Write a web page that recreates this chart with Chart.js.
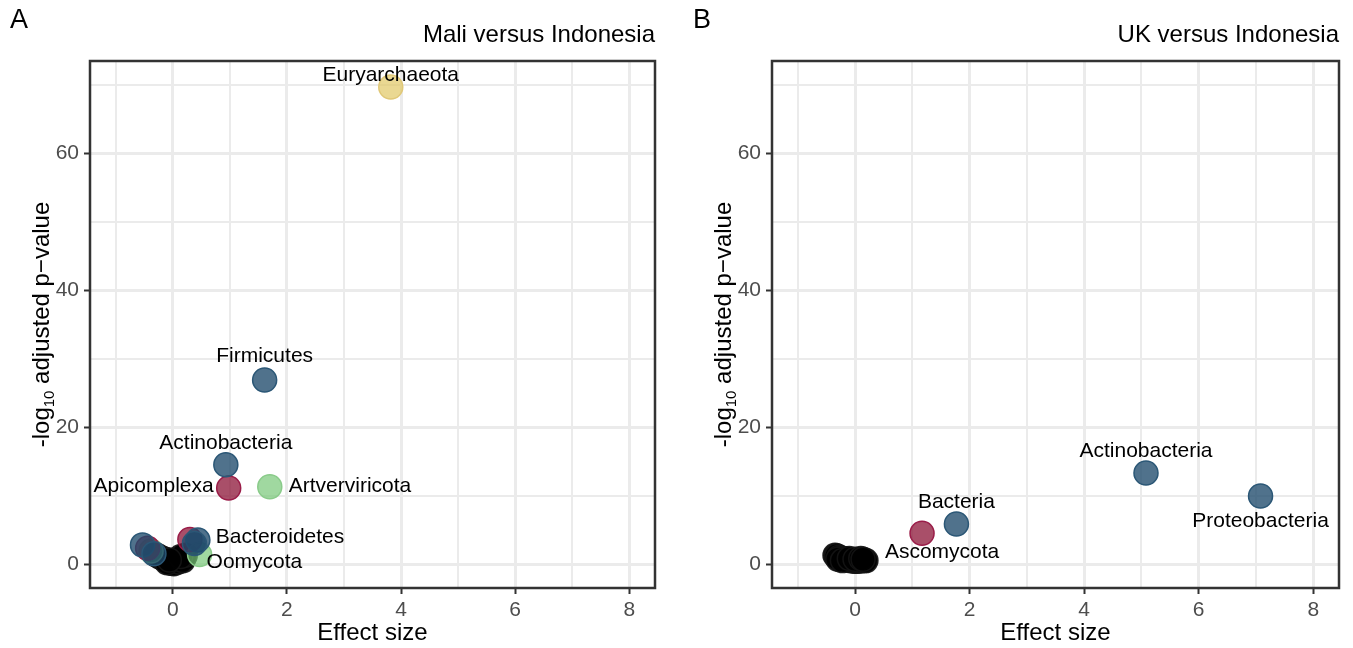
<!DOCTYPE html>
<html>
<head>
<meta charset="utf-8">
<title>Effect size volcano plots</title>
<script src="https://cdn.jsdelivr.net/npm/chart.js@4.4.1/dist/chart.umd.min.js"></script>
<style>
  body { margin: 0; background: #fff; font-family: "Liberation Sans", Arial, sans-serif; }
  #wrap { position: relative; width: 1353px; height: 648px; overflow: hidden; }
  .panel { position: absolute; top: 0; width: 676px; height: 648px; }
  .tag { position: absolute; top: 4px; font-size: 27px; color: #000; }
</style>
</head>
<body>
<div id="wrap">
  <div class="panel" style="left:0"><canvas id="chartA" width="676" height="648"></canvas></div>
  <div class="panel" style="left:677px"><canvas id="chartB" width="676" height="648"></canvas></div>
  <div class="tag" style="left:10px">A</div>
  <div class="tag" style="left:693px">B</div>
</div>
<script>
// axis ticks (minor ones only get a grid line)
const xTicks = [-1, 0, 1, 2, 3, 4, 5, 6, 7, 8];
const yTicks = [0, 10, 20, 30, 40, 50, 60, 70];
const xMajor = [0, 2, 4, 6, 8];
const yMajor = [0, 20, 40, 60];

// --- Panel A: Mali versus Indonesia ---
const maliBlueX = [1.61, 0.93, 0.44, 0.38, -0.53, -0.33];
const maliBlueY = [26.9, 14.5, 3.5, 3.0, 2.8, 1.5];
const maliBlueNames = ["Firmicutes", "Actinobacteria", "Bacteroidetes", "", "", ""];

const maliRedX = [0.98, -0.44, 0.30];
const maliRedY = [11.1, 2.3, 3.6];
const maliRedNames = ["Apicomplexa", "", ""];

const maliGreenX = [1.70, -0.38, 0.47];
const maliGreenY = [11.3, 1.9, 1.4];
const maliGreenNames = ["Artverviricota", "", "Oomycota"];

const maliYellowX = [3.82];
const maliYellowY = [69.7];
const maliYellowNames = ["Euryarchaeota"];

const maliGreyX = [-0.28, -0.22, -0.17, -0.12, -0.08, -0.04, 0, 0.04, 0.08, 0.12, 0.16, 0.2, -0.02, 0.02, 0.1, -0.1, 0.18, 0.22, 0.14, -0.06];
const maliGreyY = [1.3, 1.0, 0.8, 0.6, 0.4, 0.3, 0.2, 0.3, 0.45, 0.6, 0.8, 1.0, 0.1, 0.05, 0.3, 0.2, 0.5, 1.3, 1.1, 0.6];

// --- Panel B: UK versus Indonesia ---
const ukBlueX = [5.08, 7.08, 1.77];
const ukBlueY = [13.3, 9.95, 5.86];
const ukBlueNames = ["Actinobacteria", "Proteobacteria", "Bacteria"];

const ukRedX = [1.17];
const ukRedY = [4.5];

const ukGreyX = [-0.35, -0.32, -0.28, -0.24, -0.2, -0.16, -0.12, -0.08, -0.04, 0, 0.04, 0.08, 0.12, 0.16, 0.19, -0.3, -0.22, -0.1, 0, 0.1, 0.14];
const ukGreyY = [1.3, 1.2, 1.0, 0.9, 0.8, 0.7, 0.6, 0.5, 0.45, 0.4, 0.4, 0.45, 0.5, 0.5, 0.5, 0.7, 0.5, 0.8, 0.7, 0.8, 0.7];
const ukGreyNames = ["", "", "", "", "", "", "", "", "", "", "", "", "", "", "Ascomycota", "", "", "", "", "", ""];

// where each label sits relative to its point (pixels)
const labelPlace = {
  "Euryarchaeota": { dx: 0, dy: -12, align: "center" },
  "Firmicutes": { dx: 0, dy: -24, align: "center" },
  "Actinobacteria": { dx: 0, dy: -22, align: "center" },
  "Apicomplexa": { dx: -15, dy: -2, align: "right" },
  "Artverviricota": { dx: 19, dy: -1, align: "left" },
  "Bacteroidetes": { dx: 18, dy: -3, align: "left" },
  "Oomycota": { dx: 7, dy: 8, align: "left" },
  "Proteobacteria": { dx: 0, dy: 25, align: "center" },
  "Bacteria": { dx: 0, dy: -22, align: "center" },
  "Ascomycota": { dx: 19, dy: -8, align: "left" }
};

const FONT = "'Liberation Sans', Arial, sans-serif";

const colours = {
  blue: { fill: "rgba(31,74,107,0.78)", line: "#2B5776" },
  red: { fill: "rgba(140,20,55,0.75)", line: "#9A1C48" },
  green: { fill: "rgba(120,200,120,0.7)", line: "#8ACB8A" },
  yellow: { fill: "rgba(225,200,100,0.7)", line: "#E0C878" },
  black: { fill: "rgba(0,0,0,0.92)", line: "rgba(20,20,20,0.9)" }
};

function pts(xs, ys) {
  return xs.map((v, i) => ({ x: v, y: ys[i] }));
}

function series(xs, ys, names, col, order) {
  return {
    data: pts(xs, ys),
    names: names || [],
    backgroundColor: col.fill,
    borderColor: col.line,
    borderWidth: 1.5,
    pointRadius: 12,
    pointHoverRadius: 12,
    order: order
  };
}

// frame, titles and point labels
const decor = {
  id: "decor",
  afterDatasetsDraw(chart, args, opts) {
    const c = chart.ctx, a = chart.chartArea;
    c.save();
    // point labels
    c.fillStyle = "#000";
    c.font = "21px " + FONT;
    c.textBaseline = "middle";
    chart.data.datasets.forEach((ds, di) => {
      const meta = chart.getDatasetMeta(di);
      ds.names.forEach((n, i) => {
        if (!n) return;
        const p = labelPlace[n];
        const el = meta.data[i];
        c.textAlign = p.align;
        c.fillText(n, el.x + p.dx, el.y + p.dy);
      });
    });
    // panel border
    c.strokeStyle = "#333333";
    c.lineWidth = 2.5;
    c.strokeRect(a.left, a.top, a.right - a.left, a.bottom - a.top);
    // title
    c.font = "24px " + FONT;
    c.textAlign = "right";
    c.textBaseline = "alphabetic";
    c.fillText(opts.title, a.right, 42);
    // y axis title with subscript
    c.translate(a.left - 48, (a.top + a.bottom) / 2);
    c.rotate(-Math.PI / 2);
    const big = "24px " + FONT, small = "15px " + FONT;
    const p1 = "-log", p2 = "10", p3 = " adjusted p\u2212value";
    c.font = big; const w1 = c.measureText(p1).width, w3 = c.measureText(p3).width;
    c.font = small; const w2 = c.measureText(p2).width;
    let x = -(w1 + w2 + w3) / 2;
    c.textAlign = "left";
    c.textBaseline = "middle";
    c.font = big; c.fillText(p1, x, 0); x += w1;
    c.font = small; c.fillText(p2, x, 8); x += w2;
    c.font = big; c.fillText(p3, x, 0);
    c.restore();
  }
};

function makePanel(id, title, datasets, yWidth, padRight) {
  new Chart(document.getElementById(id), {
    type: "scatter",
    data: { datasets: datasets },
    options: {
      responsive: false,
      animation: false,
      layout: { padding: { top: 61, right: padRight, left: 0, bottom: 0 } },
      plugins: { legend: { display: false }, tooltip: { enabled: false }, decor: { title: title } },
      scales: {
        x: {
          type: "linear",
          min: -1.45,
          max: 8.45,
          afterBuildTicks: s => { s.ticks = xTicks.map(v => ({ value: v })); },
          afterFit: s => { s.height = 60; },
          border: { display: false },
          grid: {
            color: "#EBEBEB",
            lineWidth: ctx => xMajor.includes(ctx.tick.value) ? 3 : 2,
            tickColor: ctx => xMajor.includes(ctx.tick.value) ? "#333333" : "rgba(0,0,0,0)",
            tickWidth: 2,
            tickLength: 6
          },
          ticks: {
            autoSkip: false,
            maxRotation: 0,
            padding: 4,
            color: "#4D4D4D",
            font: { family: FONT, size: 21 },
            callback: v => xMajor.includes(v) ? String(v) : ""
          },
          title: {
            display: true,
            text: "Effect size",
            color: "#000",
            font: { family: FONT, size: 24 },
            padding: { top: 0, bottom: 0 }
          }
        },
        y: {
          type: "linear",
          min: -3.5,
          max: 73.5,
          afterBuildTicks: s => { s.ticks = yTicks.map(v => ({ value: v })); },
          afterFit: s => { s.width = yWidth; },
          border: { display: false },
          grid: {
            color: "#EBEBEB",
            lineWidth: ctx => yMajor.includes(ctx.tick.value) ? 3 : 2,
            tickColor: ctx => yMajor.includes(ctx.tick.value) ? "#333333" : "rgba(0,0,0,0)",
            tickWidth: 2,
            tickLength: 6
          },
          ticks: {
            autoSkip: false,
            padding: 5,
            color: "#4D4D4D",
            font: { family: FONT, size: 21 },
            callback: v => yMajor.includes(v) ? String(v) : ""
          }
        }
      }
    },
    plugins: [decor]
  });
}

makePanel("chartA", "Mali versus Indonesia", [
  series(maliGreyX, maliGreyY, null, colours.black, 5),
  series(maliYellowX, maliYellowY, maliYellowNames, colours.yellow, 4),
  series(maliGreenX, maliGreenY, maliGreenNames, colours.green, 3),
  series(maliRedX, maliRedY, maliRedNames, colours.red, 2),
  series(maliBlueX, maliBlueY, maliBlueNames, colours.blue, 1)
], 90, 21);

makePanel("chartB", "UK versus Indonesia", [
  series(ukGreyX, ukGreyY, ukGreyNames, colours.black, 3),
  series(ukRedX, ukRedY, null, colours.red, 2),
  series(ukBlueX, ukBlueY, ukBlueNames, colours.blue, 1)
], 95, 14);
</script>
</body>
</html>
